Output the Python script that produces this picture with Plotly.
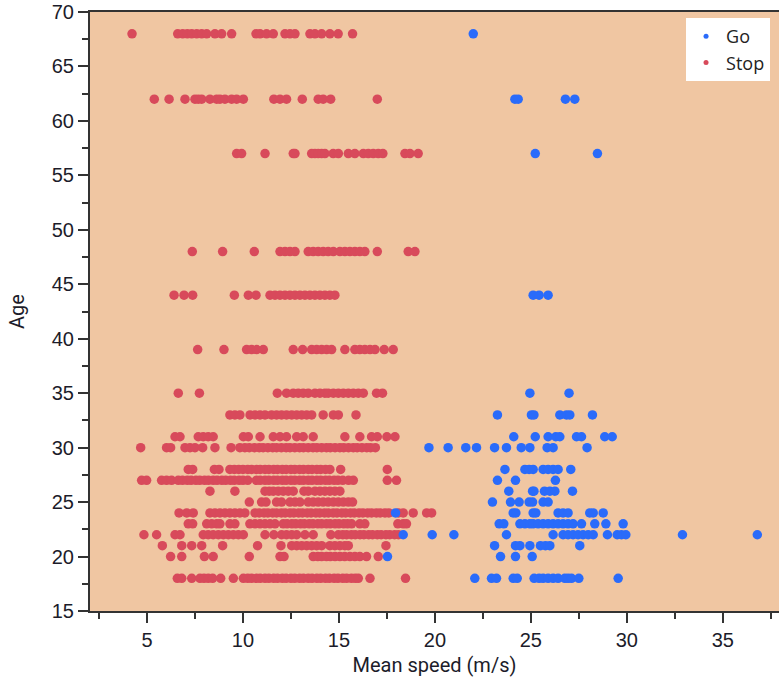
import plotly.graph_objects as go

# Stop group: mean speed (m/s) for each age bracket
stop_68 = [4.22, 6.6, 6.86, 7.1, 7.33, 7.59, 7.85, 8.11, 8.54, 8.89, 9.41, 10.68, 10.89,
           11.23, 11.58, 12.19, 12.45, 12.71, 13.49, 13.75, 14.1, 14.53, 14.96, 15.71]
stop_62 = [5.38, 6.15, 6.98, 7.5, 7.67, 7.85, 8.28, 8.63, 8.8, 9.06, 9.41, 9.67, 10.02,
           11.61, 11.93, 12.27, 13.09, 13.92, 14.18, 14.57, 17.0]
stop_57 = [9.67, 9.93, 11.15, 12.62, 12.71, 13.58, 13.75, 13.92, 14.1, 14.27, 14.7, 14.97,
           15.49, 15.83, 16.27, 16.53, 16.79, 17.05, 17.29, 18.44, 18.7, 19.13]
stop_48 = [7.36, 8.94, 10.59, 11.93, 12.19, 12.45, 12.71, 13.4, 13.66, 13.92, 14.18, 14.44,
           14.71, 15.05, 15.31, 15.57, 15.83, 16.09, 16.35, 17.0, 18.61, 18.96]
stop_44 = [6.41, 6.93, 7.38, 9.55, 10.28, 10.68, 11.41, 11.67, 11.93, 12.19, 12.45, 12.71,
           12.97, 13.23, 13.49, 13.75, 14.01, 14.27, 14.53, 14.79]
stop_39 = [7.64, 9.01, 10.19, 10.45, 10.71, 11.06, 12.62, 13.11, 13.58, 13.84, 14.1, 14.36,
           14.62, 15.31, 15.83, 16.09, 16.35, 16.62, 16.88, 17.36, 17.83]
stop_35 = [6.63, 7.73, 11.79, 12.27, 12.62, 12.88, 13.14, 13.4, 13.75, 14.01, 14.27, 14.44,
           14.71, 14.97, 15.23, 15.49, 15.75, 16.01, 16.27, 16.96, 17.27]
stop_33 = [9.32, 9.58, 9.84, 10.37, 10.63, 10.89, 11.15, 11.49, 11.75, 12.01, 12.27, 12.54,
           12.8, 13.06, 13.32, 13.58, 14.18, 14.71, 14.97, 15.89]
stop_31 = [6.46, 6.72, 7.67, 7.93, 8.19, 8.45, 10.02, 10.28, 10.89, 11.58, 11.93, 12.27,
           12.8, 13.14, 13.66, 15.31, 16.09, 16.7, 17.0, 17.5, 17.92]
stop_30 = [4.67, 6.02, 6.23, 6.98, 7.24, 7.5, 7.9, 8.54, 9.38, 9.84, 10.1, 10.33, 10.6,
           10.85, 11.05, 11.3, 11.55, 11.75, 12.0, 12.25, 12.45, 12.7, 12.95, 13.15, 13.4,
           13.65, 13.85, 14.1, 14.35, 14.55, 14.8, 15.05, 15.25, 15.5, 15.75, 15.95, 16.2,
           16.45, 16.65, 16.9]
stop_28 = [7.15, 7.38, 8.51, 8.75, 9.32, 9.55, 9.78, 10.0, 10.25, 10.45, 10.7, 10.9, 11.15,
           11.35, 11.6, 11.8, 12.05, 12.25, 12.5, 12.7, 12.95, 13.15, 13.4, 13.6, 13.85,
           14.05, 14.3, 14.53, 15.09, 17.52]
stop_27 = [4.72, 4.98, 5.76, 6.02, 6.28, 6.63, 6.85, 7.1, 7.3, 7.55, 7.75, 8.0, 8.2, 8.45,
           8.65, 8.9, 9.1, 9.35, 9.55, 9.8, 10.0, 10.25, 10.7, 10.9, 11.15, 11.35, 11.6,
           11.8, 12.05, 12.25, 12.5, 12.7, 12.95, 13.15, 13.4, 13.6, 13.85, 14.05, 14.3,
           14.5, 14.75, 14.95, 15.2, 15.5, 15.75, 17.52, 18.0]
stop_26 = [8.28, 9.58, 11.15, 11.37, 11.58, 11.84, 12.1, 12.36, 12.62, 13.18, 13.4, 13.75,
           14.01, 14.27, 14.53, 14.79, 15.05]
stop_25 = [10.33, 10.97, 11.2, 11.75, 12.01, 12.45, 12.71, 12.97, 13.4, 13.66, 13.92, 14.18,
           14.44, 14.71, 14.97, 15.23, 15.49, 15.71]
stop_24 = [6.67, 7.07, 7.41, 8.28, 8.54, 8.8, 9.06, 9.32, 9.58, 9.84, 10.1, 10.63, 10.85,
           11.1, 11.3, 11.55, 11.75, 12.0, 12.2, 12.45, 12.65, 12.9, 13.1, 13.35, 13.55,
           13.8, 14.0, 14.25, 14.45, 14.7, 14.9, 15.15, 15.35, 15.6, 15.8, 16.05, 16.25,
           16.5, 16.7, 16.95, 17.15, 17.4, 17.6, 18.1, 18.35, 18.87, 19.57, 19.83]
stop_23 = [7.15, 7.38, 8.11, 8.37, 8.63, 8.8, 9.32, 9.58, 10.36, 10.63, 10.89, 11.15, 11.41,
           11.67, 12.1, 12.3, 12.55, 12.75, 13.0, 13.2, 13.45, 13.65, 13.9, 14.1, 14.35,
           14.55, 14.8, 15.0, 15.25, 15.45, 15.66, 16.09, 16.35, 18.07, 18.35, 18.52]
stop_22 = [4.84, 5.5, 6.46, 6.72, 7.93, 8.19, 8.45, 8.72, 8.98, 9.24, 9.5, 9.76, 10.02,
           11.15, 11.61, 12.01, 12.27, 12.54, 12.8, 13.23, 13.66, 14.58, 14.97, 15.2, 15.4,
           15.65, 15.85, 16.1, 16.3, 16.55, 16.75, 17.0, 17.2, 17.45, 17.65, 17.9, 18.1]
stop_21 = [5.8, 6.81, 7.33, 7.85, 8.94, 10.76, 11.98, 12.54, 12.8, 13.06, 13.32, 13.58,
           13.84, 14.1, 14.53, 14.79, 15.05, 15.31, 15.49, 17.45]
stop_20 = [6.23, 6.81, 7.99, 8.45, 10.33, 11.93, 12.14, 13.66, 13.9, 14.1, 14.35, 14.55,
           14.8, 15.05, 15.3, 15.57, 15.83, 16.09, 16.44, 17.05]
stop_18 = [6.58, 6.81, 7.33, 7.76, 7.97, 8.19, 8.42, 8.84, 9.5, 10.02, 10.25, 10.45, 10.7,
           10.9, 11.15, 11.35, 11.6, 11.8, 12.05, 12.25, 12.5, 12.7, 12.95, 13.15, 13.4,
           13.6, 13.85, 14.05, 14.3, 14.5, 14.75, 14.95, 15.2, 15.4, 15.65, 15.85, 16.01,
           16.62, 18.47]

# Go group: mean speed (m/s) for each age bracket
go_68 = [22.0]
go_62 = [24.17, 24.34, 26.8, 27.29]
go_57 = [25.23, 28.47]
go_44 = [25.12, 25.43, 25.9]
go_35 = [24.95, 26.99]
go_33 = [23.26, 25.03, 25.16, 26.51, 26.86, 27.03, 28.21]
go_31 = [24.11, 25.23, 25.9, 26.3, 26.51, 27.38, 27.64, 28.85, 29.24]
go_30 = [19.69, 20.69, 21.61, 22.17, 23.11, 23.73, 24.5, 24.95, 25.85, 26.16, 27.93]
go_28 = [23.65, 24.69, 24.91, 25.12, 25.64, 25.9, 26.16, 26.42, 27.08]
go_27 = [23.26, 24.2, 26.28]
go_26 = [23.85, 25.09, 25.16, 25.71, 25.99, 26.25, 27.17]
go_25 = [23.0, 23.94, 24.39, 24.91, 25.09, 25.64, 25.9]
go_24 = [17.95, 24.08, 24.22, 25.12, 25.26, 26.42, 26.68, 26.94, 28.07, 28.25, 28.77]
go_23 = [23.35, 23.59, 24.43, 24.69, 24.95, 25.12, 25.38, 25.64, 25.9, 26.16, 26.42, 26.68,
         26.94, 27.2, 27.64, 28.33, 28.91, 29.81]
go_22 = [18.35, 19.86, 20.99, 23.73, 26.16, 26.68, 26.94, 27.2, 27.46, 27.72, 27.99, 28.25,
         28.99, 29.5, 29.72, 29.95, 32.9, 36.8]
go_21 = [23.11, 24.2, 24.43, 24.95, 25.5, 25.76, 25.99, 27.55]
go_20 = [17.53, 23.42, 24.2, 25.07]
go_18 = [22.08, 22.95, 23.21, 24.08, 24.29, 25.17, 25.43, 25.64, 25.9, 26.16, 26.42, 26.77,
         26.94, 27.12, 27.5, 29.55]

stop_rows = {68: stop_68, 62: stop_62, 57: stop_57, 48: stop_48, 44: stop_44, 39: stop_39,
             35: stop_35, 33: stop_33, 31: stop_31, 30: stop_30, 28: stop_28, 27: stop_27,
             26: stop_26, 25: stop_25, 24: stop_24, 23: stop_23, 22: stop_22, 21: stop_21,
             20: stop_20, 18: stop_18}
go_rows = {68: go_68, 62: go_62, 57: go_57, 44: go_44, 35: go_35, 33: go_33, 31: go_31,
           30: go_30, 28: go_28, 27: go_27, 26: go_26, 25: go_25, 24: go_24, 23: go_23,
           22: go_22, 21: go_21, 20: go_20, 18: go_18}


def flatten(rows):
    xs, ys = [], []
    for age, speeds in rows.items():
        xs.extend(speeds)
        ys.extend([age] * len(speeds))
    return xs, ys


stop_x, stop_y = flatten(stop_rows)
go_x, go_y = flatten(go_rows)

RED = "#D84A5B"
BLUE = "#2A6BFA"
BG = "#F0C6A2"
AXIS = "#333333"
TEXT = "#1c1c2a"

fig = go.Figure()
fig.add_trace(go.Scatter(x=stop_x, y=stop_y, mode="markers", showlegend=False,
                         marker=dict(color=RED, size=9.5, line=dict(width=0))))
fig.add_trace(go.Scatter(x=go_x, y=go_y, mode="markers", showlegend=False,
                         marker=dict(color=BLUE, size=9.5, line=dict(width=0))))
# small legend swatches
fig.add_trace(go.Scatter(x=[None], y=[None], mode="markers", name="Go",
                         marker=dict(color=BLUE, size=5)))
fig.add_trace(go.Scatter(x=[None], y=[None], mode="markers", name="Stop",
                         marker=dict(color=RED, size=5)))

tick_font = dict(family="Liberation Sans, Arial, sans-serif", size=20, color=TEXT)
title_font = dict(family="Roboto, sans-serif", size=20, color=TEXT)

fig.update_layout(
    width=779, height=687,
    margin=dict(l=90, r=0, t=12, b=76),
    paper_bgcolor="white",
    plot_bgcolor=BG,
    showlegend=True,
    legend=dict(x=0.987, y=0.99, xanchor="right", yanchor="top",
                bgcolor="white", borderwidth=0,
                font=dict(family="Open Sans, sans-serif", size=18, color="#222222"),
                itemwidth=30, tracegroupgap=0),
    xaxis=dict(
        range=[2.03, 37.93], dtick=5, tick0=0,
        showgrid=False, zeroline=False,
        showline=True, linecolor=AXIS, linewidth=2, mirror=True,
        ticks="outside", ticklen=10, tickwidth=2, tickcolor=AXIS,
        minor=dict(dtick=2.5, ticks="outside", ticklen=6, tickwidth=2, tickcolor=AXIS),
        tickfont=tick_font,
        title=dict(text="Mean speed (m/s)", font=title_font, standoff=8),
    ),
    yaxis=dict(
        range=[15, 70], dtick=5, tick0=0,
        showgrid=False, zeroline=False,
        showline=True, linecolor=AXIS, linewidth=2, mirror=False,
        ticks="outside", ticklen=10, tickwidth=2, tickcolor=AXIS,
        minor=dict(dtick=2.5, ticks="outside", ticklen=6, tickwidth=2, tickcolor=AXIS),
        tickfont=tick_font,
        title=dict(text="Age", font=title_font, standoff=22),
    ),
)

fig.write_html("out.html")
